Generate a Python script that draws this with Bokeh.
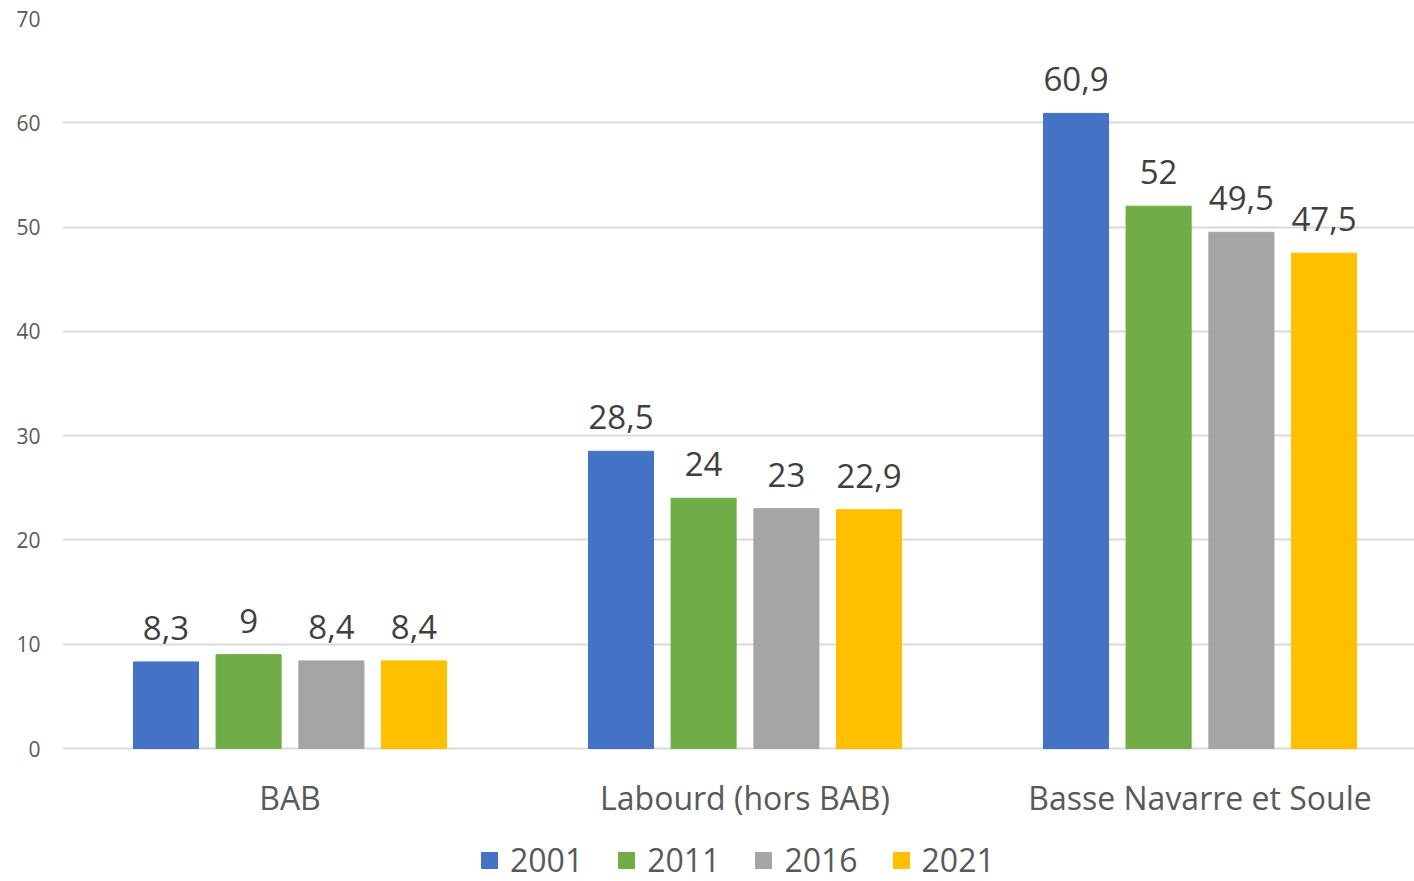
from bokeh.plotting import figure
from bokeh.models import ColumnDataSource, Range1d, FixedTicker, LabelSet, Legend, LegendItem
from bokeh.embed import file_html
from bokeh.resources import INLINE
from bokeh.core.properties import value

categories = ["BAB", "Labourd (hors BAB)", "Basse Navarre et Soule"]
years = ["2001", "2011", "2016", "2021"]
v2001 = [8.3, 28.5, 60.9]
v2011 = [9, 24, 52]
v2016 = [8.4, 23, 49.5]
v2021 = [8.4, 22.9, 47.5]
series = [v2001, v2011, v2016, v2021]
colors = ["#4472C4", "#70AD47", "#A5A5A5", "#FFC000"]
y_ticks = [0, 10, 20, 30, 40, 50, 60, 70]

offsets = [-0.2725, -0.091, 0.091, 0.2725]
bar_w = 0.143
FONT = "Open Sans"

# frame extends below zero so that category labels and legend live inside it
p = figure(width=1414, height=881, frame_width=1352, frame_height=863,
           x_range=Range1d(0, 2.9714), y_range=Range1d(-12.753, 70),
           output_backend="svg", toolbar_location=None,
           min_border_left=62, min_border_right=0, min_border_top=18, min_border_bottom=0)
p.outline_line_color = None
p.background_fill_color = "white"
p.border_fill_color = "white"

items = []
for yr, vals, col, off in zip(years, series, colors, offsets):
    src = ColumnDataSource(dict(
        x=[i + 0.5 + off for i in range(len(categories))],
        top=vals,
        lab=[("%g" % v).replace(".", ",") for v in vals],
    ))
    r = p.vbar(x="x", top="top", bottom=0, width=bar_w, source=src, fill_color=col, line_color=col)
    items.append(LegendItem(label=yr, renderers=[r]))
    p.add_layout(LabelSet(x="x", y="top", text="lab", source=src, text_align="center",
                          text_baseline="alphabetic", y_offset=22, text_font=value(FONT),
                          text_font_size="33px", text_color="#404040"))

# category labels (x axis)
cat_src = ColumnDataSource(dict(x=[i + 0.5 for i in range(len(categories))],
                                y=[0] * len(categories), name=categories))
p.add_layout(LabelSet(x="x", y="y", text="name", source=cat_src, text_align="center",
                      text_baseline="middle", y_offset=-49, text_font=value(FONT),
                      text_font_size="32px", text_color="#595959"))
p.xaxis.visible = False

# y axis
p.yaxis.ticker = FixedTicker(ticks=y_ticks)
p.yaxis.axis_line_color = None
p.yaxis.major_tick_line_color = None
p.yaxis.minor_tick_line_color = None
p.yaxis.major_label_text_font = FONT
p.yaxis.major_label_text_font_size = "21px"
p.yaxis.major_label_text_color = "#595959"
p.yaxis.major_label_standoff = 16

p.xgrid.grid_line_color = None
p.ygrid.grid_line_color = "#D9D9D9"
p.ygrid.grid_line_width = 2

legend = Legend(items=items, orientation="horizontal", location=(417, 0),
                border_line_color=None, background_fill_alpha=0,
                label_text_font=FONT, label_text_font_size="32px", label_text_color="#595959",
                glyph_width=20, glyph_height=20, spacing=33, label_standoff=11,
                padding=0, margin=0)
p.add_layout(legend, "center")

open("out.html", "w").write(file_html(p, INLINE))
